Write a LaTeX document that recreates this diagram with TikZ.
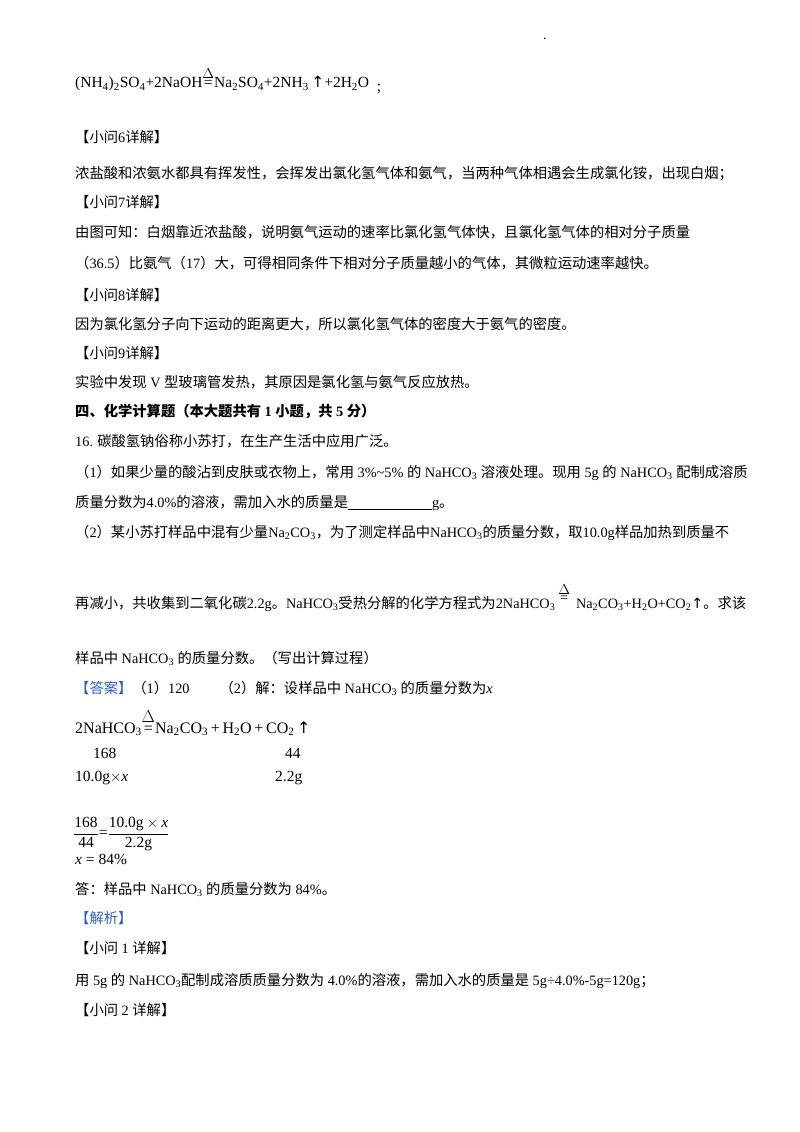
\documentclass[tikz,border=0pt]{standalone}
\usepackage{amsmath}
\usepackage{fontspec}
\setmainfont{Noto Sans CJK SC}
\newfontfamily\lat{Liberation Serif}
\newfontfamily\dv{DejaVu Sans}
\newcommand{\sbs}[1]{\textsubscript{#1}}
\newcommand{\dleq}{\ensuremath{\mathrel{\overset{\textstyle\Delta}{\raisebox{0pt}{=}}}}}
\definecolor{ansblue}{HTML}{2E5FC4}
\begin{document}
\begin{tikzpicture}[x=1pt,y=-1pt,every node/.style={anchor=base west,inner sep=0pt,font=\fontsize{14.3}{15}\selectfont}]
\useasboundingbox (0,0) rectangle (800,1132);
\node (dot) at (543,40) {\lat .};
\node (l1) at (75,88) {\lat\fontsize{15.5}{16}\selectfont (NH\sbs{4})\sbs{2}SO\sbs{4}+2NaOH\dleq Na\sbs{2}SO\sbs{4}+2NH\sbs{3}{\dv\,↑}+2H\sbs{2}O\ \ \raisebox{-4pt}{;}};
\node (l2) at (75,142) {【小问{\lat 6}详解】};
\node (l3) at (75,178) {浓盐酸和浓氨水都具有挥发性，会挥发出氯化氢气体和氨气，当两种气体相遇会生成氯化铵，出现白烟；};
\node (l4) at (75,207) {【小问{\lat 7}详解】};
\node (l5) at (75,237) {由图可知：白烟靠近浓盐酸，说明氨气运动的速率比氯化氢气体快，且氯化氢气体的相对分子质量};
\node (l6) at (75,268) {（{\lat 36.5}）比氨气（{\lat 17}）大，可得相同条件下相对分子质量越小的气体，其微粒运动速率越快。};
\node (l7) at (75,300) {【小问{\lat 8}详解】};
\node (l8) at (75,329) {因为氯化氢分子向下运动的距离更大，所以氯化氢气体的密度大于氨气的密度。};
\node (l9) at (75,358) {【小问{\lat 9}详解】};
\node (l10) at (75,387) {实验中发现{\lat\ V\ }型玻璃管发热，其原因是氯化氢与氨气反应放热。};
\node (l11) at (75,416) {\bfseries 四、化学计算题（本大题共有{\lat\bfseries\ 1\ }小题，共{\lat\bfseries\ 5\ }分）};
\node (l12) at (75,446) {{\lat 16.} 碳酸氢钠俗称小苏打，在生产生活中应用广泛。};
\node (l13) at (75,477) {（{\lat 1}）如果少量的酸沾到皮肤或衣物上，常用{\lat\ 3\%\textasciitilde5\%\ }的{\lat\ NaHCO\sbs{3}\ }溶液处理。现用{\lat\ 5g\ }的{\lat\ NaHCO\sbs{3}\ }配制成溶质};
\node (l14) at (75,507) {质量分数为{\lat 4.0\%}的溶液，需加入水的质量是{\lat \underline{\hspace{84pt}}g}。};
\node (l15) at (75,537) {（{\lat 2}）某小苏打样品中混有少量{\lat Na\sbs{2}CO\sbs{3}}，为了测定样品中{\lat NaHCO\sbs{3}}的质量分数，取{\lat 10.0g}样品加热到质量不};
\node (l16) at (75,608) {再减小，共收集到二氧化碳{\lat 2.2g}。{\lat NaHCO\sbs{3}}受热分解的化学方程式为{\lat 2NaHCO\sbs{3}\hspace{3pt}\raisebox{6pt}{\shortstack{$\Delta$\\[-2pt]=}}\hspace{6pt}Na\sbs{2}CO\sbs{3}+H\sbs{2}O+CO\sbs{2}}{\dv ↑}。求该};
\node (l17) at (75,663) {样品中{\lat\ NaHCO\sbs{3}\ }的质量分数。（写出计算过程）};
\node (l18) at (75,693) {{\color{ansblue}【答案】}（{\lat 1}）{\lat 120}\hspace{30pt}（{\lat 2}）解：设样品中{\lat\ NaHCO\sbs{3}\ }的质量分数为{\lat\itshape x}};
\node (e1) at (75,733) {\lat\fontsize{16}{17}\selectfont 2NaHCO\sbs{3}\dleq Na\sbs{2}CO\sbs{3}\,+\,H\sbs{2}O\,+\,CO\sbs{2}{\dv\,↑}};
\node (e2) at (93,758) {\lat\fontsize{15.5}{16}\selectfont 168};
\node (e3) at (285,758) {\lat\fontsize{15.5}{16}\selectfont 44};
\node (e4) at (75,781) {\lat\fontsize{15.5}{16}\selectfont 10.0g$\times$\textit{x}};
\node (e5) at (275,781) {\lat\fontsize{15.5}{16}\selectfont 2.2g};
\node[anchor=west] (e6) at (73,834) {\lat\fontsize{15.5}{16}\selectfont $\dfrac{\text{168}}{\text{44}}$=$\dfrac{\text{10.0g}\times \textit{x}}{\text{2.2g}}$};
\node (e7) at (75,864) {\lat\fontsize{15.5}{16}\selectfont \textit{x} = 84\%};
\node (l19) at (75,894) {答：样品中{\lat\ NaHCO\sbs{3}\ }的质量分数为{\lat\ 84\%}。};
\node (l20) at (75,923) {\color{ansblue}【解析】};
\node (l21) at (75,953) {【小问{\lat\ 1\ }详解】};
\node (l22) at (75,985) {用{\lat\ 5g\ }的{\lat\ NaHCO\sbs{3}}配制成溶质质量分数为{\lat\ 4.0\%}的溶液，需加入水的质量是{\lat\ 5g÷4.0\%-5g=120g}；};
\node (l23) at (75,1015) {【小问{\lat\ 2\ }详解】};
\end{tikzpicture}
\end{document}
